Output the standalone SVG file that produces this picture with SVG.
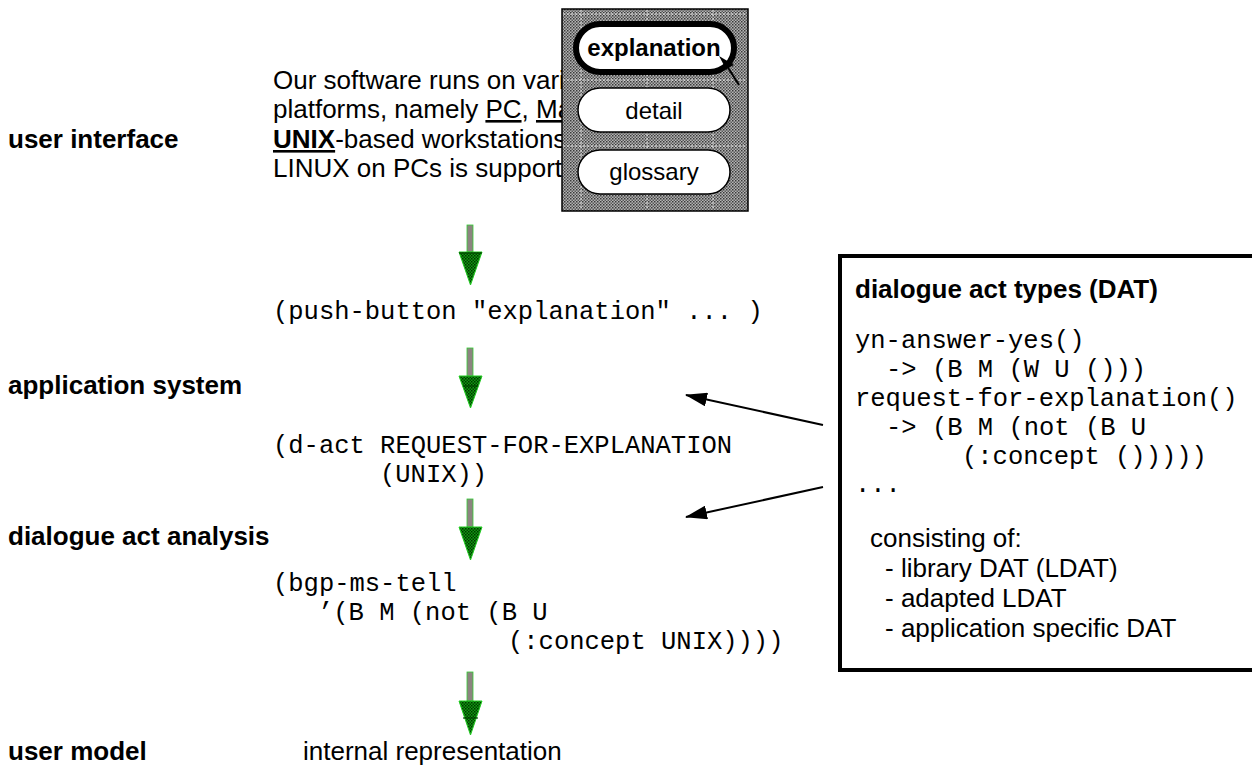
<svg xmlns="http://www.w3.org/2000/svg" width="1252" height="772" viewBox="0 0 1252 772">
<style>
.lbl{font-family:"Liberation Sans",Arial,sans-serif;font-weight:bold;font-size:26px;fill:#000}
.sans{font-family:"Liberation Sans",Arial,sans-serif;font-size:26px;fill:#000}
.mono{font-family:"Liberation Mono","Courier New",monospace;font-size:25.5px;fill:#000}
.btn{fill:#fff;stroke:#000;stroke-width:1.5}
.btxt{font-family:"Liberation Sans",Arial,sans-serif;font-size:24px;fill:#000;text-anchor:middle}
.shaft{fill:#8c8480;stroke:#33cc33;stroke-width:0.8}
.head{fill:url(#gchk);stroke:#22cc22;stroke-width:1}
.hline{stroke:#004400;stroke-width:1.2}
.conn{stroke:#000;stroke-width:2;fill:none;marker-end:url(#ah)}
.grid{stroke:#fff;stroke-width:1;stroke-dasharray:2 2;opacity:0.8}
</style>
<defs>
<pattern id="chk" width="3" height="3" patternUnits="userSpaceOnUse">
<rect width="3" height="3" fill="#b4b4b4"/>
<rect width="1.5" height="1.5" fill="#3a3a3a"/>
<rect x="1.5" y="1.5" width="1.5" height="1.5" fill="#5a5a5a"/>
</pattern>
<pattern id="gchk" width="3" height="3" patternUnits="userSpaceOnUse">
<rect width="3" height="3" fill="#119911"/>
<rect width="1.5" height="1.5" fill="#003300"/>
<rect x="1.5" y="1.5" width="1.5" height="1.5" fill="#004400"/>
</pattern>
<marker id="ah" viewBox="0 0 22 14" refX="21" refY="7" markerWidth="22" markerHeight="14" markerUnits="userSpaceOnUse" orient="auto">
<path d="M0,0 L22,7 L0,14 Z" fill="#000"/>
</marker>
</defs>
<rect width="1252" height="772" fill="#fff"/>

<g id="layer-labels">
<text class="lbl" x="8" y="148">user interface</text>
<text class="lbl" x="8" y="394">application system</text>
<text class="lbl" x="8" y="545">dialogue act analysis</text>
<text class="lbl" x="8" y="760">user model</text>
</g>

<g id="ui-text">
<text class="sans" x="273" y="89">Our software runs on vari</text>
<text class="sans" x="273" y="118">platforms, namely <tspan text-decoration="underline">PC</tspan>, <tspan text-decoration="underline">Ma</tspan></text>
<text class="sans" x="273" y="148"><tspan font-weight="bold" text-decoration="underline">UNIX</tspan>-based workstations</text>
<text class="sans" x="273" y="177">LINUX on PCs is support</text>
</g>

<g id="popup-panel">
<rect x="562" y="9" width="186" height="202" fill="url(#chk)" stroke="#000" stroke-width="1.5"/>
<g class="grid">
<line x1="581" y1="10" x2="581" y2="210"/>
<line x1="647" y1="10" x2="647" y2="210"/>
<line x1="713" y1="10" x2="713" y2="210"/>
<line x1="563" y1="14" x2="747" y2="14"/>
<line x1="563" y1="80" x2="747" y2="80"/>
<line x1="563" y1="146" x2="747" y2="146"/>
</g>
<g id="btn-explanation">
<rect x="576" y="24" width="158" height="48" rx="24" fill="#fff" stroke="#000" stroke-width="6"/>
<text class="btxt" x="654" y="56" font-weight="bold">explanation</text>
</g>
<g id="btn-detail">
<rect class="btn" x="578" y="88" width="152" height="44" rx="22"/>
<text class="btxt" x="654" y="119">detail</text>
</g>
<g id="btn-glossary">
<rect class="btn" x="578" y="150" width="152" height="44" rx="22"/>
<text class="btxt" x="654" y="180">glossary</text>
</g>
<g id="cursor">
<line x1="727" y1="66" x2="739" y2="85" stroke="#000" stroke-width="2"/>
<polygon points="719,56 734,65 726,69" fill="#000"/>
</g>
</g>

<g id="flow-texts">
<text class="mono" x="273" y="319">(push-button "explanation" ... )</text>
<text class="mono" x="273" y="453">(d-act REQUEST-FOR-EXPLANATION</text>
<text class="mono" x="380" y="482">(UNIX))</text>
<text class="mono" x="273" y="591">(bgp-ms-tell</text>
<text class="mono" x="318" y="620">’(B M (not (B U</text>
<text class="mono" x="508" y="649">(:concept UNIX))))</text>
<text class="sans" x="303" y="760">internal representation</text>
</g>

<g id="dat-box">
<rect x="840" y="256" width="420" height="414" fill="#fff" stroke="#000" stroke-width="4"/>
<text class="lbl" x="855" y="298">dialogue act types (DAT)</text>
<text class="mono" x="855" y="348">yn-answer-yes()</text>
<text class="mono" x="886" y="377">-&gt; (B M (W U ()))</text>
<text class="mono" x="855" y="406">request-for-explanation()</text>
<text class="mono" x="886" y="435">-&gt; (B M (not (B U</text>
<text class="mono" x="962" y="464">(:concept ()))))</text>
<text class="mono" x="855" y="492">...</text>
<text class="sans" x="870" y="547">consisting of:</text>
<text class="sans" x="885" y="577">- library DAT (LDAT)</text>
<text class="sans" x="885" y="607">- adapted LDAT</text>
<text class="sans" x="885" y="637">- application specific DAT</text>
</g>

<g id="connectors">
<g id="flow-arrow-1">
<rect class="shaft" x="467" y="225" width="6" height="27"/>
<polygon class="head" points="459,252 482,252 470.5,285"/>
<line class="hline" x1="459" y1="253" x2="482" y2="253"/>
</g>
<g id="flow-arrow-2">
<rect class="shaft" x="467" y="348" width="6" height="28"/>
<polygon class="head" points="459,376 482,376 470.5,408"/>
<line class="hline" x1="463" y1="386" x2="478" y2="386"/>
</g>
<g id="flow-arrow-3">
<rect class="shaft" x="467" y="499" width="6" height="28"/>
<polygon class="head" points="459,527 482,527 470.5,560"/>
</g>
<g id="flow-arrow-4">
<rect class="shaft" x="467" y="672" width="6" height="29"/>
<polygon class="head" points="459,701 482,701 470.5,735"/>
<line class="hline" x1="463" y1="718" x2="478" y2="718"/>
</g>
<line class="conn" x1="823" y1="425" x2="686" y2="395"/>
<line class="conn" x1="823" y1="487" x2="686" y2="517"/>
</g>
</svg>
